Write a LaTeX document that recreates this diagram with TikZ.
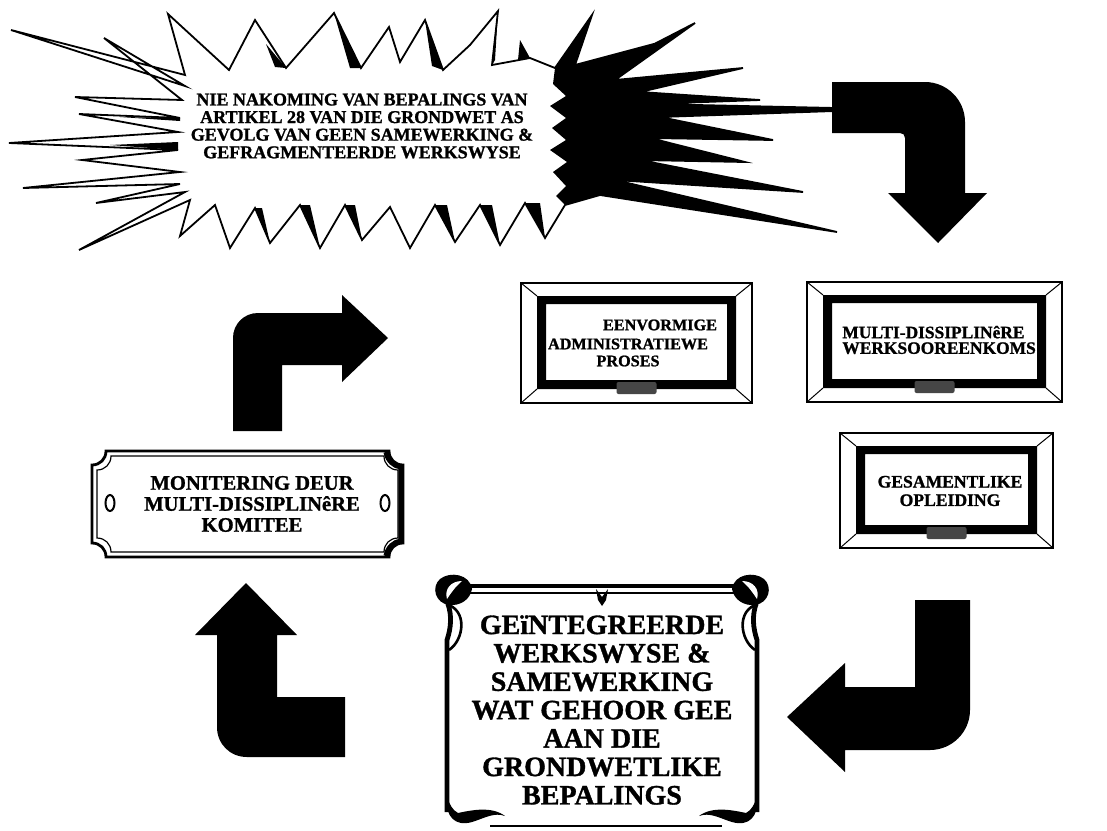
\documentclass[tikz,border=0pt]{standalone}
\usepackage{fontspec}
\setmainfont{Liberation Serif}[BoldFeatures={FakeBold=1.2}]
\newcommand{\tvframe}[4]{%
  \pgfmathsetmacro\tax{#1+16}\pgfmathsetmacro\tay{#2+13}%
  \pgfmathsetmacro\tbx{#3-16}\pgfmathsetmacro\tby{#4-14}%
  \pgfmathsetmacro\tcx{(#1+#3)/2}%
  \draw[line width=1.3pt] (#1,#2) rectangle (#3,#4);
  \draw[line width=0.5pt] (#1,#2) -- (\tax,\tay) (#3,#2) -- (\tbx,\tay) (#1,#4) -- (\tax,\tby) (#3,#4) -- (\tbx,\tby);
  \fill[black,even odd rule] (\tax,\tay) rectangle (\tbx,\tby) (\tax+9,\tay+8) rectangle (\tbx-9,\tby-9);
  \fill[tabgray,rounded corners=1pt] (\tcx-20,\tby-7) rectangle (\tcx+20,\tby+5);
}
\newcommand{\scrollhalf}{%
  \fill (472,589) .. controls (470,574) and (450,571) .. (440,579) .. controls (431,587) and (435,603) .. (449,605) .. controls (460,606) and (470,600) .. (472,589) -- cycle;
  \fill[white] (447,599) .. controls (444,589) and (451,581) .. (462,581) .. controls (455,587) and (451,593) .. (447,599) -- cycle;
  \draw[line width=2.4pt] (448,604) .. controls (452,616) and (451,628) .. (447,640) -- (447,812);
  \draw[line width=1.3pt] (446,604) .. controls (468,610) and (464,640) .. (449,650);
  \fill (447,798) .. controls (445,816) and (455,827) .. (472,822) .. controls (485,818) and (494,812) .. (505,816) .. controls (492,806) and (472,810) .. (458,813) .. controls (452,810) and (450,804) .. (447,798) -- cycle;
}
\definecolor{tabgray}{RGB}{70,70,70}
\begin{document}
\begin{tikzpicture}[x=0.5pt,y=-0.5pt,
  bursttext/.style={font=\fontsize{9}{8.8}\selectfont\bfseries,align=center,inner sep=0pt},
  tvtext/.style={font=\fontsize{8.1}{9.4}\selectfont\bfseries,align=center,inner sep=0pt},
  plaquetext/.style={font=\fontsize{10.3}{10.5}\selectfont\bfseries,align=center,inner sep=0pt},
  scrolltext/.style={font=\fontsize{14}{14.2}\selectfont\bfseries,align=center,inner sep=0pt},
  fatarrow/.style={fill=black}]
\useasboundingbox (0,0) rectangle (1107,830);
\fill[white] (0,0) rectangle (1107,830);

% ---------- burst ----------
\draw[line width=0.9pt, fill=white, line join=miter]
  (185,75) -- (168,14) -- (229,70) -- (255,20) -- (286,68) -- (334,13) -- (361,68) -- (389,27) -- (400,62)
  -- (425,20) -- (443,70) -- (470,45) -- (498,11) -- (492,65) -- (530,58) -- (555,68)
  -- (592,15) -- (575,65) -- (650,45) -- (600,72) -- (695,23) -- (615,80) -- (743,68) -- (640,92)
  -- (760,100) -- (650,104) -- (835,108) -- (835,111) -- (660,117) -- (773,140) -- (650,138)
  -- (745,162) -- (640,160) -- (803,192) -- (615,180) -- (837,232) -- (600,195) -- (565,205)
  -- (545,238) -- (525,203) -- (500,245) -- (480,205) -- (455,242) -- (435,205) -- (410,248)
  -- (390,207) -- (362,240) -- (345,205) -- (320,248) -- (300,205) -- (270,243) -- (255,208)
  -- (230,248) -- (215,205) -- (180,236) -- (190,200) -- (79,250) -- (185,192)
  -- (96,203) -- (180,184) -- (23,188) -- (180,172) -- (82,160) -- (178,150) -- (9,143)
  -- (178,132) -- (79,114) -- (180,118) -- (75,97) -- (182,100) -- (104,38) -- (185,86) -- (11,30) -- cycle;
% dark wedges on the spikes
\fill (286,68) -- (266,44) -- (275,67) -- cycle;
\fill (334,13) -- (350,68) -- (361,68) -- cycle;
\fill (425,20) -- (432,66) -- (443,70) -- cycle;
\fill (498,11) -- (495,60) -- (492,65) -- cycle;
\fill (530,58) -- (520,40) -- (518,60) -- cycle;
\fill (255,208) -- (270,243) -- (262,208) -- cycle;
\fill (300,205) -- (320,248) -- (310,205) -- cycle;
\fill (345,205) -- (362,240) -- (355,205) -- cycle;
\fill (435,205) -- (455,242) -- (447,205) -- cycle;
\fill (480,205) -- (500,245) -- (492,205) -- cycle;
\fill (525,203) -- (545,238) -- (540,203) -- cycle;
\fill (180,118) -- (120,117) -- (180,121) -- cycle;
\fill (178,150) -- (110,145) -- (178,142) -- cycle;
% right black cluster
\fill (555,68) -- (592,15) -- (575,65) -- (650,45) -- (600,72) -- (695,23) -- (615,80) -- (743,68) -- (640,92)
  -- (760,100) -- (650,104) -- (835,108) -- (835,111) -- (660,117) -- (773,140) -- (650,138)
  -- (745,162) -- (640,160) -- (803,192) -- (615,180) -- (837,232) -- (600,195) -- (565,205)
  -- (556,196) -- (566,186) -- (553,172) -- (567,162) -- (550,150) -- (566,140) -- (552,128)
  -- (566,118) -- (550,106) -- (566,96) -- (553,84) -- cycle;
\node[bursttext] (problem) at (362,126) {NIE NAKOMING VAN BEPALINGS VAN\\ARTIKEL 28 VAN DIE GRONDWET AS\\GEVOLG VAN GEEN SAMEWERKING \&\\GEFRAGMENTEERDE WERKSWYSE};

% ---------- fat arrows ----------
\fill[fatarrow] (832,82) -- (925,82) .. controls (947,82) and (965,100) .. (965,122) -- (965,193) -- (987,193)
  -- (938,243) -- (888,193) -- (905,193) -- (905,138) .. controls (905,135) and (903,133) .. (900,133) -- (832,133) -- cycle;
\fill[fatarrow] (233,431) -- (233,338) .. controls (233,324) and (244,313) .. (258,313) -- (342,313) -- (342,295)
  -- (388,338) -- (342,382) -- (342,365) -- (282,365) -- (282,431) -- cycle;
\fill[fatarrow] (246,583) -- (297,635) -- (277,635) -- (277,697) -- (345,697) -- (345,757) -- (247,757)
  .. controls (230,757) and (217,744) .. (217,727) -- (217,635) -- (195,635) -- cycle;
\fill[fatarrow] (915,600) -- (970,600) -- (970,710) .. controls (970,732) and (952,750) .. (930,750) -- (845,750)
  -- (845,772) -- (787,717) -- (845,663) -- (845,687) -- (915,687) -- cycle;

% ---------- TV frames ----------
\tvframe{521}{283}{752}{403}
\node[tvtext] (adminA) at (660,325) {EENVORMIGE};
\node[tvtext] (adminB) at (628,344) {ADMINISTRATIEWE};
\node[tvtext] (adminC) at (628,361) {PROSES};

\tvframe{807}{282}{1062}{402}
\node[tvtext,align=left,anchor=west,font=\fontsize{8.7}{7.8}\selectfont\bfseries] (werk) at (842,340) {MULTI-DISSIPLINêRE\\WERKSOOREENKOMS};

\tvframe{840}{433}{1053}{548}
\node[tvtext,font=\fontsize{8.8}{9.2}\selectfont\bfseries] (opleiding) at (950,491) {GESAMENTLIKE\\OPLEIDING};

% ---------- plaque ----------
\draw[line width=1.4pt,fill=white] (106,451) -- (389,451) .. controls (389,459) and (395,465) .. (403,465) -- (403,543)
  .. controls (395,543) and (389,549) .. (389,557) -- (106,557) .. controls (106,549) and (100,543) .. (92,543)
  -- (92,465) .. controls (100,465) and (106,459) .. (106,451) -- cycle;
\draw[line width=0.6pt] (111,456) -- (384,456) .. controls (384,464) and (390,470) .. (398,470) -- (398,538)
  .. controls (390,538) and (384,544) .. (384,552) -- (111,552) .. controls (111,544) and (105,538) .. (97,538)
  -- (97,470) .. controls (105,470) and (111,464) .. (111,456) -- cycle;
\draw[line width=2.6pt] (386,452) .. controls (388,461) and (394,466) .. (401,467) -- (401,541) .. controls (394,542) and (388,547) .. (386,556);
\draw[line width=1pt] (110,503) ellipse [x radius=4.5, y radius=8];
\draw[line width=1pt] (385,503) ellipse [x radius=4.5, y radius=8];
\node[plaquetext] (monitor) at (252,504) {MONITERING DEUR\\MULTI-DISSIPLINêRE\\KOMITEE};

% ---------- scroll frame ----------
\draw[line width=1.6pt] (470,586) -- (742,586);
\draw[line width=0.7pt] (470,593) -- (742,593);
\draw[line width=1.4pt] (490,826) -- (722,826);
\scrollhalf
\begin{scope}[shift={(1204,0)},xscale=-1]
\scrollhalf
\end{scope}
\fill (596,589) -- (602,597) -- (608,589) -- (606,600) -- (602,606) -- (598,600) -- cycle;
\node[scrolltext] (goal) at (602,710) {GEïNTEGREERDE\\WERKSWYSE \&\\SAMEWERKING\\WAT GEHOOR GEE\\AAN DIE\\GRONDWETLIKE\\BEPALINGS};
\end{tikzpicture}
\end{document}
